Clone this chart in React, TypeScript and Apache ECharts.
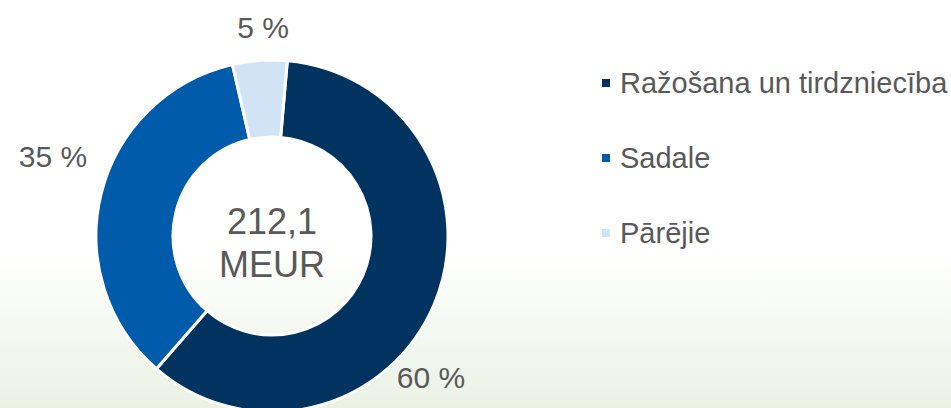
import React, { useEffect, useRef } from "react";
import * as echarts from "echarts";

const categories = ["Ražošana un tirdzniecība", "Sadale", "Pārējie"];
const values = [60, 35, 5];
const totalLabel = ["212,1", "MEUR"];
const colors = ["#00335F", "#005BAA", "#D0E4F5"];
const labelPositions = [
  [431, 377],
  [53, 156],
  [263, 27],
];

export default function App() {
  const ref = useRef<HTMLDivElement>(null);
  useEffect(() => {
    const el = ref.current;
    if (!el) return;
    const chart = echarts.init(el, null, { renderer: "svg" });
    chart.setOption({
      animation: false,
      backgroundColor: "transparent",
      color: colors,
      textStyle: { fontFamily: "Liberation Sans, Arial, sans-serif" },
      legend: {
        orient: "vertical",
        left: 595,
        top: 63,
        itemWidth: 10,
        itemHeight: 10,
        itemGap: 45,
        icon: "rect",
        selectedMode: false,
        data: categories,
        textStyle: {
          fontSize: 29,
          lineHeight: 30,
          color: "#595959",
          padding: [0, 0, 0, 4],
          fontFamily: "Liberation Sans, Arial, sans-serif",
        },
      },
      graphic: [
        {
          type: "text",
          x: 272,
          y: 243,
          style: {
            text: totalLabel.join("\n"),
            fontSize: 36,
            lineHeight: 43,
            fill: "#595959",
            align: "center",
            verticalAlign: "middle",
            fontFamily: "Liberation Sans, Arial, sans-serif",
          },
        },
      ],
      series: [
        {
          type: "pie",
          center: [272, 236],
          radius: [99, 176],
          startAngle: 85,
          clockwise: true,
          avoidLabelOverlap: false,
          itemStyle: { borderColor: "#ffffff", borderWidth: 3 },
          label: {
            show: true,
            formatter: (p: any) => `${p.value} %`,
            fontSize: 30,
            color: "#595959",
            fontFamily: "Liberation Sans, Arial, sans-serif",
          },
          labelLine: { show: false },
          labelLayout: (params: any) => {
            const pos = labelPositions[params.dataIndex];
            return {
              x: pos[0],
              y: pos[1],
              align: "center",
              verticalAlign: "middle",
            };
          },
          emphasis: { disabled: true },
          data: categories.map((name, i) => ({ name, value: values[i] })),
        },
      ],
    });
    return () => chart.dispose();
  }, []);
  return (
    <div
      style={{
        position: "fixed",
        left: 0,
        top: 0,
        width: 951,
        height: 408,
        background:
          "linear-gradient(to bottom, #ffffff 0%, #ffffff 62%, #f5f9f2 80%, #ebf2e4 100%)",
      }}
    >
      <div ref={ref} style={{ width: 951, height: 408 }} />
    </div>
  );
}
